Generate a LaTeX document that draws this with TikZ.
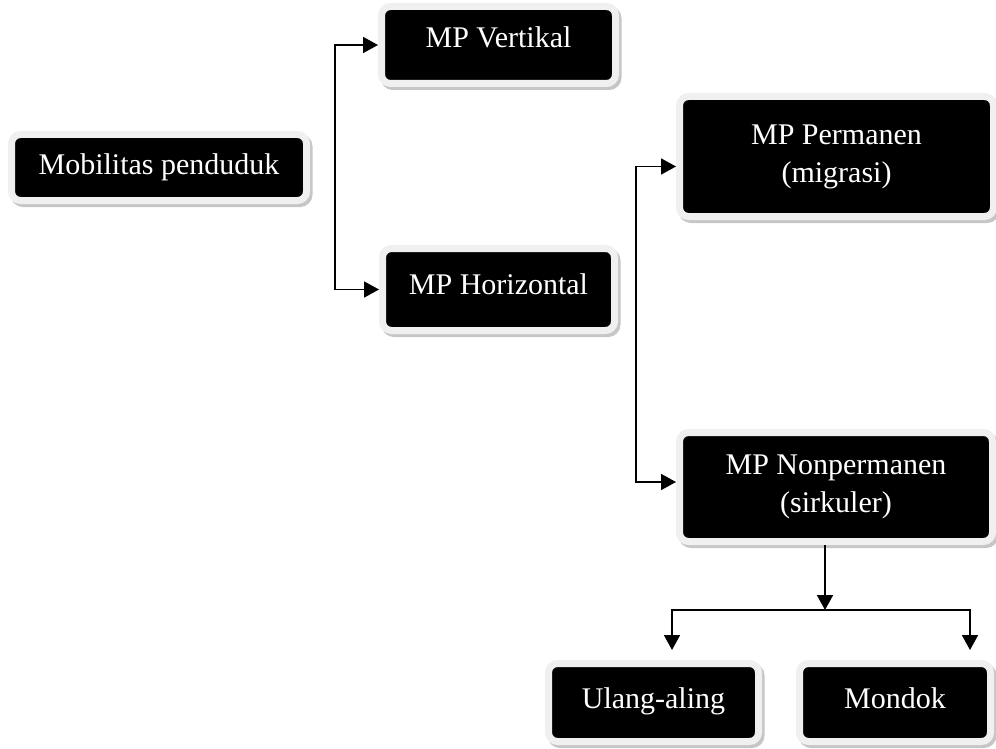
\documentclass[tikz,border=0pt]{standalone}
\usepackage{fontspec}
\setmainfont{Liberation Serif}
\usetikzlibrary{arrows.meta, shadows}
\tikzset{box/.style = {fill=black, draw=gray!12, line width=7pt, rounded corners=9pt,
    text=white, align=center, inner sep=0pt, font=\fontsize{30}{38}\selectfont,
    general shadow={shadow xshift=2.5pt, shadow yshift=-3pt, draw=gray!45, fill=gray!45, line width=7pt}}}
\tikzset{arr/.style = {line width=1.8pt, -{Triangle[length=15pt, width=16pt]}}}

\begin{document}
\begin{tikzpicture}[x=1pt, y=1pt]
    \useasboundingbox (0,0) rectangle (996,-749);
    \node[box, minimum width=295pt, minimum height=66pt, text height=20pt, text depth=6pt] (mob) at (159,-167.5) {Mobilitas penduduk};
    \node[box, minimum width=234pt, minimum height=77pt, text height=20pt, text depth=14pt] (vert) at (498.5,-45) {MP Vertikal};
    \node[box, minimum width=232pt, minimum height=82pt, text height=20pt, text depth=11pt] (hor) at (498.5,-289.5) {MP Horizontal};
    \node[box, minimum width=314pt, minimum height=120pt] (perm) at (836.5,-156.5) {MP Permanen\\(migrasi)};
    \node[box, minimum width=313pt, minimum height=109pt] (nonperm) at (836,-487) {MP Nonpermanen\\(sirkuler)};
    \node[box, minimum width=210pt, minimum height=78pt, text height=20pt, text depth=9pt] (ulang) at (653.5,-702.5) {Ulang-aling};
    \node[box, minimum width=191pt, minimum height=78pt, text height=20pt, text depth=9pt] (mondok) at (895,-702.5) {Mondok};
    % branching points
    \coordinate (bar1) at (335,-168);
    \coordinate (bar2) at (636,-325);
    \coordinate (split) at (825,-610);
    \coordinate (ul) at (672,-650);
    \coordinate (mo) at (970,-650);
    \draw[arr] (bar1) |- (vert.west);
    \draw[arr] (bar1) |- (hor.west);
    \draw[arr] (bar2) |- ([yshift=-10pt]perm.west);
    \draw[arr] (bar2) |- ([yshift=5pt]nonperm.west);
    \draw[arr] ([xshift=-11pt]nonperm.south) -- (split);
    \draw[arr] (split) -| (ul);
    \draw[arr] (split) -| (mo);
\end{tikzpicture}
\end{document}
